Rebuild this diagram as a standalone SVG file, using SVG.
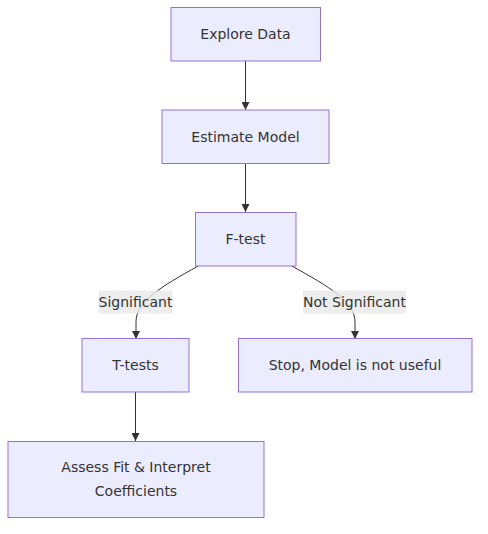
<svg xmlns="http://www.w3.org/2000/svg" width="488" height="534" viewBox="0 0 488 534">
<style>
.node rect{fill:#ECECFF;stroke:#9370DB;stroke-width:1px}
.node text,.lbl text{font-family:"DejaVu Sans",Verdana,sans-serif;font-size:14px;fill:#333333;text-anchor:middle}
.edge{fill:none;stroke:#333333;stroke-width:1px}
.lbl rect{fill:#e8e8e8;opacity:0.8}
</style>
<defs>
<marker id="arrow" viewBox="0 0 10 10" refX="10" refY="5" markerUnits="userSpaceOnUse" markerWidth="8" markerHeight="8" orient="auto">
<path d="M0,0 L10,5 L0,10 z" fill="#333333"/>
</marker>
</defs>
<rect width="488" height="534" fill="#ffffff"/>
<g id="connectors">
<path class="edge" d="M245.5,61 L245.5,110" marker-end="url(#arrow)"/>
<path class="edge" d="M245.5,163 L245.5,212" marker-end="url(#arrow)"/>
<path class="edge" d="M198.3,266 C160,287 136,302 136,322 L136,339" marker-end="url(#arrow)"/>
<path class="edge" d="M291.7,266 C330,287 355,302 355,322 L355,339" marker-end="url(#arrow)"/>
<path class="edge" d="M135.5,392 L135.5,441" marker-end="url(#arrow)"/>
</g>
<g id="edge-labels">
<g class="lbl" id="label-significant"><rect x="98.5" y="290.5" width="74" height="23"/><text x="135.5" y="306.5">Significant</text></g>
<g class="lbl" id="label-not-significant"><rect x="303" y="290.5" width="103" height="23"/><text x="354.5" y="306.5">Not Significant</text></g>
</g>
<g class="node" id="explore"><rect x="171" y="7.5" width="149.5" height="53.5"/><text x="245.5" y="39">Explore Data</text></g>
<g class="node" id="estimate"><rect x="162" y="110" width="167" height="53.5"/><text x="245.5" y="141.5">Estimate Model</text></g>
<g class="node" id="ftest"><rect x="195.5" y="212.5" width="100.5" height="53.5"/><text x="245.5" y="244">F-test</text></g>
<g class="node" id="ttests"><rect x="82" y="338.5" width="107" height="53.5"/><text x="135.5" y="370">T-tests</text></g>
<g class="node" id="stop"><rect x="238.5" y="338.5" width="233.5" height="53.5"/><text x="355" y="370">Stop, Model is not useful</text></g>
<g class="node" id="assess"><rect x="8" y="441.5" width="256" height="76"/><text x="136" y="472">Assess Fit &amp; Interpret</text><text x="136" y="496">Coefficients</text></g>
</svg>
